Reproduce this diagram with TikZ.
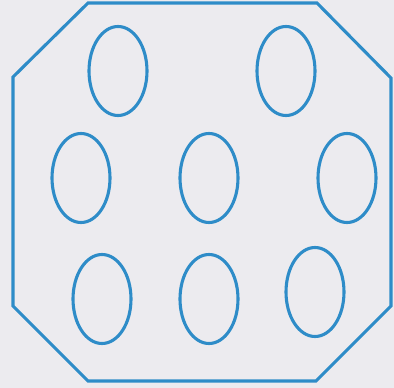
\documentclass[tikz,border=0pt]{standalone}
\usetikzlibrary{shapes.geometric}
\definecolor{lineblue}{HTML}{2E8CC8}
\definecolor{paper}{HTML}{ECEBEF}
\tikzset{
  hole/.style={draw=lineblue, line width=3.1pt, ellipse, inner sep=0pt, minimum width=58pt, minimum height=89pt},
  outline/.style={draw=lineblue, line width=3.1pt, line join=miter}
}
\begin{document}
\begin{tikzpicture}[x=1pt,y=-1pt]
\fill[paper] (0,0) rectangle (394,388);
\useasboundingbox (0,0) rectangle (394,388);
\coordinate (p1) at (88,3);
\coordinate (p2) at (317,3);
\coordinate (p3) at (391,78);
\coordinate (p4) at (391,306);
\coordinate (p5) at (316,381);
\coordinate (p6) at (88,381);
\coordinate (p7) at (13,306);
\coordinate (p8) at (13,77);
\draw[outline] (p1) -- (p2) -- (p3) -- (p4) -- (p5) -- (p6) -- (p7) -- (p8) -- cycle;
\node[hole] (e1) at (118,71) {};
\node[hole] (e2) at (286,71) {};
\node[hole] (e3) at (81,178) {};
\node[hole] (e4) at (209,178) {};
\node[hole] (e5) at (347,178) {};
\node[hole] (e6) at (102,299) {};
\node[hole] (e7) at (209,299) {};
\node[hole] (e8) at (315,292) {};
\end{tikzpicture}
\end{document}
